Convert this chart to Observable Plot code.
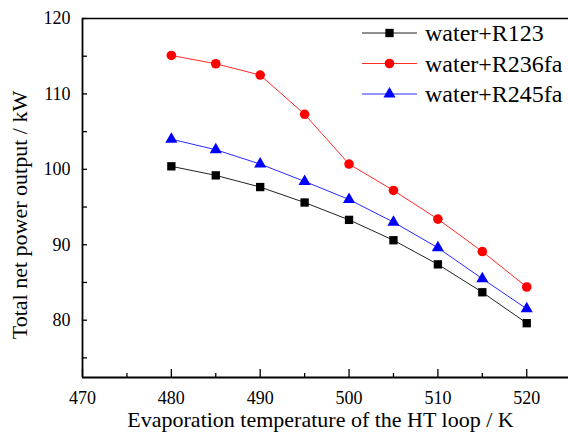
<!DOCTYPE html>
<html><head><meta charset="utf-8">
<script src="https://cdn.jsdelivr.net/npm/d3@7"></script>
<script src="https://cdn.jsdelivr.net/npm/@observablehq/plot@0.6"></script>
<style>
body{margin:0;background:#fff;}
#wrap{position:relative;width:568px;height:441px;font-family:"Liberation Serif","Times New Roman",serif;}
#legend{position:absolute;left:0;top:0;pointer-events:none;}
</style></head><body><div id="wrap"></div>
<script>
// ---- data ----
const temps = [480, 485, 490, 495, 500, 505, 510, 515, 520];
const r123 = [100.4, 99.2, 97.65, 95.6, 93.3, 90.6, 87.4, 83.7, 79.6];
const r236fa = [115.1, 114.0, 112.5, 107.3, 100.7, 97.2, 93.4, 89.1, 84.4];
const r245fa = [104.0, 102.6, 100.7, 98.4, 96.0, 93.0, 89.6, 85.5, 81.5];
const seriesNames = ["water+R123", "water+R236fa", "water+R245fa"];
const xMajorTicks = [470, 480, 490, 500, 510, 520];
const xMinorTicks = [475, 485, 495, 505, 515];
const yMajorTicks = [80, 90, 100, 110, 120];
const yMinorTicks = [75, 85, 95, 105, 115];
const xTitle = "Evaporation temperature of the HT loop / K";
const yTitle = "Total net power output / kW";
const xDomain = [470, 524.7];
const yDomain = [72.4, 120];

// ---- styles ----
const FONT = '"Liberation Serif","Times New Roman",serif';
const markerFill = ["#000000", "#ff0000", "#0000ff"];
const lineStroke = ["#222222", "#ff2a2a", "#2a2aff"];
const symbols = ["square", "circle", "triangle"];
const radii = [4.7, 4.8, 4.5];
const d3Symbols = [d3.symbolSquare, d3.symbolCircle, d3.symbolTriangle];

const W = 568, H = 441, mL = 82, mT = 18, mB = 64, mR = 0;
const fw = W - mL - mR, fh = H - mT - mB;

const values = [r123, r236fa, r245fa];
const data = seriesNames.flatMap((s, i) => temps.map((t, j) => ({series: s, t, v: values[i][j]})));

const marks = [
  Plot.tickY(yMajorTicks.concat(yMinorTicks), {y: d => d, stroke: "black", strokeWidth: 1.3, insetRight: fw - 5}),
  Plot.tickX(xMajorTicks, {x: d => d, stroke: "black", strokeWidth: 1.3, insetTop: fh - 8}),
  Plot.tickX(xMinorTicks, {x: d => d, stroke: "black", strokeWidth: 1.3, insetTop: fh - 4}),
  Plot.axisY({ticks: yMajorTicks, tickSize: 0, tickPadding: 12, label: null, fontSize: 18, fontFamily: FONT}),
  Plot.axisX({ticks: xMajorTicks, tickSize: 0, tickPadding: 14, label: null, fontSize: 18, fontFamily: FONT}),
  Plot.ruleX([xDomain[0]], {stroke: "black", strokeWidth: 1.8}),
  Plot.ruleY([yDomain[0]], {stroke: "black", strokeWidth: 1.8}),
  Plot.ruleY([yDomain[1]], {stroke: "black", strokeWidth: 1.5}),
  Plot.text([yTitle], {frameAnchor: "left", rotate: -90, dx: -63, dy: 17, fontSize: 22, fontFamily: FONT, textAnchor: "middle", lineAnchor: "middle", fill: "black"}),
  Plot.text([xTitle], {frameAnchor: "bottom", dx: -5, dy: 42, fontSize: 22, fontFamily: FONT, textAnchor: "middle", lineAnchor: "middle", fill: "black"})
];
seriesNames.forEach((s, i) => {
  const d = data.filter(e => e.series === s);
  marks.push(Plot.line(d, {x: "t", y: "v", stroke: lineStroke[i], strokeWidth: 1}));
  marks.push(Plot.dot(d, {x: "t", y: "v", symbol: symbols[i], fill: markerFill[i], r: radii[i], stroke: "none"}));
});

const chart = Plot.plot({
  width: W, height: H,
  marginLeft: mL, marginTop: mT, marginBottom: mB, marginRight: mR,
  x: {domain: xDomain, axis: null},
  y: {domain: yDomain, axis: null},
  style: {fontFamily: FONT, fontSize: "18px", color: "black", background: "white"},
  marks
});
const wrap = document.getElementById("wrap");
wrap.appendChild(chart);

// ---- legend (inside plot, top right) ----
const leg = d3.select(wrap).append("svg").attr("id", "legend").attr("width", W).attr("height", H);
const rowY = [33, 63.5, 94];
seriesNames.forEach((s, i) => {
  const g = leg.append("g").attr("transform", `translate(0,${rowY[i]})`);
  g.append("line").attr("x1", 362).attr("x2", 417).attr("y1", 0).attr("y2", 0).attr("stroke", lineStroke[i]).attr("stroke-width", 1);
  g.append("path").attr("transform", "translate(389.5,0)")
    .attr("d", d3.symbol(d3Symbols[i], Math.PI * radii[i] * radii[i])()).attr("fill", markerFill[i]);
  g.append("text").attr("x", 425).attr("y", 0).attr("dy", "0.34em")
    .attr("font-family", FONT).attr("font-size", 24).attr("fill", "black").text(s);
});
</script></body></html>
